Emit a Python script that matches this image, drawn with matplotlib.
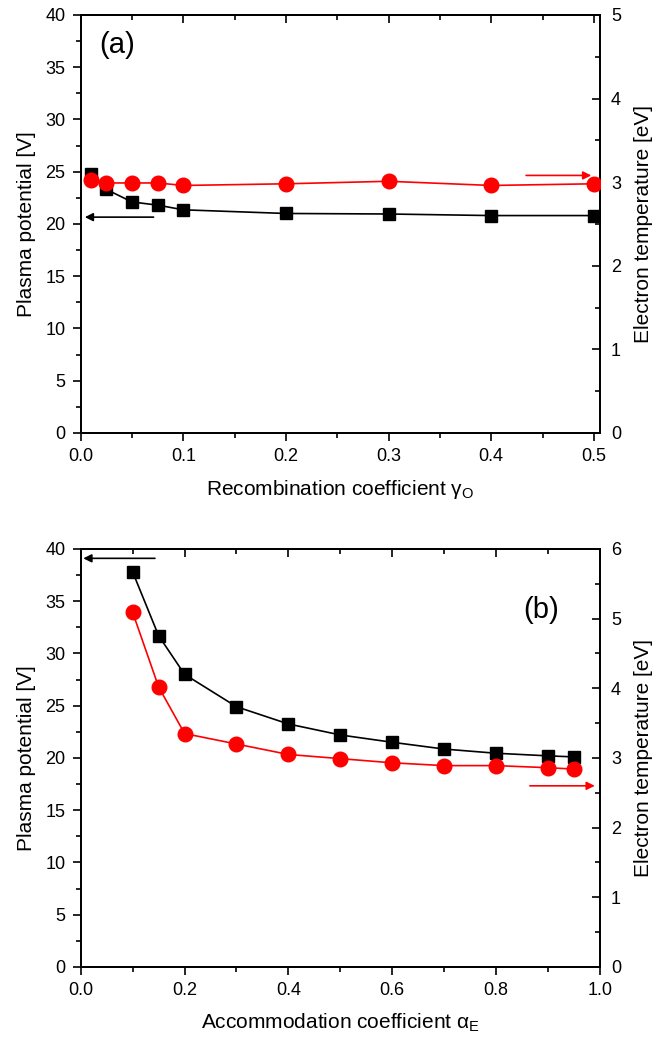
import matplotlib
matplotlib.use('Agg')
import matplotlib.pyplot as plt
from matplotlib.ticker import MultipleLocator

plt.rcParams['font.family'] = ['Liberation Sans', 'DejaVu Sans']
plt.rcParams['mathtext.fontset'] = 'custom'
plt.rcParams['mathtext.rm'] = 'Liberation Sans'

# (a) recombination coefficient scan
gamma_o = [0.01, 0.025, 0.05, 0.075, 0.1, 0.2, 0.3, 0.4, 0.5]
vp_a = [24.8, 23.3, 22.1, 21.8, 21.35, 21.0, 20.95, 20.8, 20.8]
te_a = [3.03, 2.99, 2.99, 2.99, 2.96, 2.98, 3.01, 2.96, 2.98]

# (b) accommodation coefficient scan
alpha_e = [0.1, 0.15, 0.2, 0.3, 0.4, 0.5, 0.6, 0.7, 0.8, 0.9, 0.95]
vp_b = [37.8, 31.7, 28.0, 24.9, 23.25, 22.2, 21.5, 20.85, 20.45, 20.2, 20.1]
te_b = [5.09, 4.02, 3.35, 3.2, 3.05, 2.99, 2.93, 2.89, 2.89, 2.86, 2.84]

fig = plt.figure(figsize=(6.53, 10.42), dpi=100)

panels = [
    dict(rect=[0.1236, 0.5845, 0.7952, 0.4012], x=gamma_o, vp=vp_a, te=te_a,
         xlim=(0, 0.506), xmaj=0.1, xmin=0.05, telim=(0, 5),
         xlabel='Recombination coefficient γ$_\\mathregular{O}$', tag='(a)', tagxy=(0.035, 0.928),
         larrow=((0.071, 20.65), (0.004, 20.65)), rarrow=((0.434, 3.08), (0.4975, 3.08))),
    dict(rect=[0.1236, 0.0720, 0.7952, 0.4012], x=alpha_e, vp=vp_b, te=te_b,
         xlim=(0, 1.0), xmaj=0.2, xmin=0.1, telim=(0, 6),
         xlabel='Accommodation coefficient α$_\\mathregular{E}$', tag='(b)', tagxy=(0.852, 0.854),
         larrow=((0.143, 39.1), (0.005, 39.1)), rarrow=((0.865, 2.6), (0.99, 2.6))),
]

for p in panels:
    ax = fig.add_axes(p['rect'])
    ax2 = ax.twinx()
    ax.plot(p['x'], p['vp'], color='black', marker='s', markersize=9, linewidth=1.2, zorder=3)
    ax2.plot(p['x'], p['te'], color='#ff0000', marker='o', markersize=10.5, linewidth=1.2, zorder=3)

    ax.set_xlim(*p['xlim'])
    ax.set_ylim(0, 40)
    ax2.set_ylim(*p['telim'])
    ax.xaxis.set_major_locator(MultipleLocator(p['xmaj']))
    ax.xaxis.set_minor_locator(MultipleLocator(p['xmin']))
    ax.yaxis.set_major_locator(MultipleLocator(5))
    ax.yaxis.set_minor_locator(MultipleLocator(2.5))
    ax2.yaxis.set_major_locator(MultipleLocator(1))
    ax2.yaxis.set_minor_locator(MultipleLocator(0.5))
    ax.xaxis.set_major_formatter(plt.FuncFormatter(lambda v, pos: f'{v:.1f}'))

    for a in (ax, ax2):
        for s in a.spines.values():
            s.set_linewidth(1.3)
    ax.tick_params(axis='both', which='major', direction='out', length=6, width=1.2,
                   labelsize=13, pad=5, top=False, right=False)
    ax.tick_params(axis='both', which='minor', direction='out', length=3.5, width=1.2,
                   top=False, right=False)
    ax2.tick_params(axis='y', which='major', direction='in', length=6, width=1.2,
                    labelsize=13, pad=8)
    ax2.tick_params(axis='y', which='minor', direction='in', length=3.5, width=1.2)
    # top ticks pointing inward
    sec = ax.secondary_xaxis('top')
    sec.xaxis.set_major_locator(MultipleLocator(p['xmaj']))
    sec.xaxis.set_minor_locator(MultipleLocator(p['xmin']))
    sec.tick_params(which='major', direction='in', length=6, width=1.2, labeltop=False)
    sec.tick_params(which='minor', direction='in', length=3.5, width=1.2)
    sec.spines['top'].set_linewidth(1.3)

    ax.set_xlabel(p['xlabel'], fontsize=15, labelpad=9)
    ax.set_ylabel('Plasma potential [V]', fontsize=15, labelpad=7)
    ax2.set_ylabel('Electron temperature [eV]', fontsize=15, labelpad=9)

    ax.text(p['tagxy'][0], p['tagxy'][1], p['tag'], transform=ax.transAxes, fontsize=21,
            ha='left', va='center')
    ax.annotate('', xy=p['larrow'][1], xytext=p['larrow'][0],
                arrowprops=dict(arrowstyle='-|>', color='black', lw=1.2, mutation_scale=12,
                                shrinkA=0, shrinkB=0))
    ax2.annotate('', xy=p['rarrow'][1], xytext=p['rarrow'][0],
                 arrowprops=dict(arrowstyle='-|>', color='#ff0000', lw=1.2, mutation_scale=12,
                                 shrinkA=0, shrinkB=0))

fig.savefig('out.png', dpi=100)
